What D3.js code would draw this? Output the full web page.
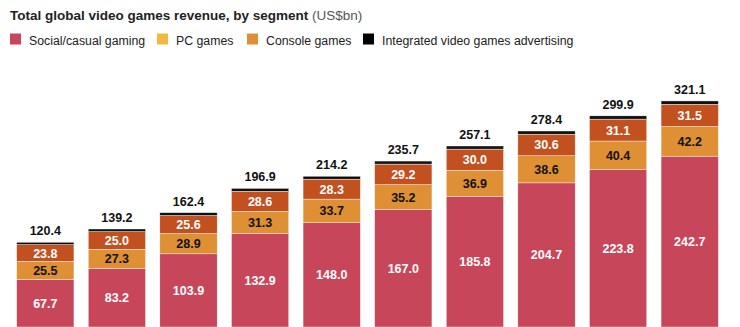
<!DOCTYPE html>
<html><head><meta charset="utf-8">
<script src="https://cdn.jsdelivr.net/npm/d3@7"></script>
<style>
body{margin:0;background:#fff;}
svg{display:block;font-family:"Liberation Sans",Arial,Helvetica,sans-serif;}
</style></head>
<body>
<svg id="c" width="740" height="327"></svg>
<script>
const categories = ["P1","P2","P3","P4","P5","P6","P7","P8","P9","P10"];
const social   = [67.7, 83.2, 103.9, 132.9, 148.0, 167.0, 185.8, 204.7, 223.8, 242.7];
const pc       = [25.5, 27.3, 28.9, 31.3, 33.7, 35.2, 36.9, 38.6, 40.4, 42.2];
const consoleG = [23.8, 25.0, 25.6, 28.6, 28.3, 29.2, 30.0, 30.6, 31.1, 31.5];
const totals   = [120.4, 139.2, 162.4, 196.9, 214.2, 235.7, 257.1, 278.4, 299.9, 321.1];
const advertising = totals.map((t,i)=> +(t - social[i] - pc[i] - consoleG[i]).toFixed(1));
const seriesNames = ["Social/casual gaming","PC games","Console games","Integrated video games advertising"];
const legendColors = ["#c8465a","#f5b83f","#df8f36","#000000"];
const barColors    = ["#c8465a","#df8f34","#c3501f","#111111"];
const labelColors  = ["#ffffff","#111111","#ffffff",null];

const rows = categories.map((c,i)=>({cat:c, s0:social[i], s1:pc[i], s2:consoleG[i], s3:advertising[i], total:totals[i]}));
const keys = ["s0","s1","s2","s3"];
const stack = d3.stack().keys(keys)(rows);

const svg = d3.select("#c");
const x = d3.scaleBand().domain(categories).range([9.5,725.5]).paddingInner(0.2).paddingOuter(0.1);
const y = d3.scaleLinear().domain([0,350]).range([327, 327-350*0.704]);

// title
const t = svg.append("text").attr("x",10).attr("y",20).attr("font-size",13.5).attr("fill","#222");
t.append("tspan").attr("font-weight","bold").text("Total global video games revenue, by segment");
t.append("tspan").attr("fill","#555").text(" (US$bn)");

// legend
const legX = [10,157,247,363];
const lg = svg.append("g");
seriesNames.forEach((n,i)=>{
  lg.append("rect").attr("x",legX[i]).attr("y",33.5).attr("width",11).attr("height",11).attr("fill",legendColors[i]);
  lg.append("text").attr("x",legX[i]+19).attr("y",44.5).attr("font-size",12.3).attr("fill","#222").text(n);
});

// bars
const g = svg.append("g");
stack.forEach((layer,li)=>{
  g.selectAll(null).data(layer).join("rect")
    .attr("x",d=>x(d.data.cat)).attr("width",x.bandwidth())
    .attr("y",d=>y(d[1])).attr("height",d=>y(d[0])-y(d[1]))
    .attr("fill",barColors[li]).attr("stroke","#fff").attr("stroke-width",0.4);
  if(labelColors[li]){
    g.selectAll(null).data(layer).join("text")
      .attr("x",d=>x(d.data.cat)+x.bandwidth()/2)
      .attr("y",d=>(y(d[0])+y(d[1]))/2)
      .attr("dy","0.36em").attr("text-anchor","middle")
      .attr("font-size",12.5).attr("font-weight","bold").attr("fill",labelColors[li])
      .text(d=>d.data[keys[li]].toFixed(1));
  }
});
g.selectAll(null).data(rows).join("text")
  .attr("x",d=>x(d.cat)+x.bandwidth()/2).attr("y",d=>y(d.total)-7)
  .attr("text-anchor","middle").attr("font-size",12.5).attr("font-weight","bold").attr("fill","#111")
  .text(d=>d.total.toFixed(1));
</script>
</body></html>
